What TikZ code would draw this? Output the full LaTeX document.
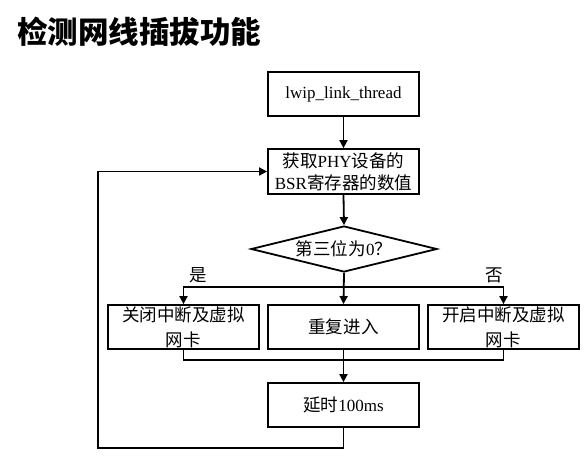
\documentclass[tikz,border=0pt]{standalone}
\usepackage{fontspec}
\setmainfont{Liberation Serif}
\newfontfamily\zh{Noto Sans CJK SC}[Scale=1.03]
\newfontfamily\zhtitle{Noto Sans CJK SC}
\usetikzlibrary{shapes.geometric,arrows.meta}
\begin{document}
\begin{tikzpicture}[x=1pt,y=-1pt,
  every node/.style={font=\fontsize{17}{23}\selectfont},
  box/.style={draw,line width=1.8pt,minimum width=151pt,minimum height=44pt,inner sep=0pt,align=center},
  decision/.style={draw,diamond,aspect=4,line width=1.8pt,minimum width=186pt,minimum height=46pt,inner sep=0pt},
  link/.style={line width=1.8pt},
  arr/.style={link,-{Triangle[length=8pt,width=8pt]}}]
\useasboundingbox (0,0) rectangle (587,459);
\node[anchor=west,inner sep=0pt,font=\fontsize{30.5}{31}\selectfont] (title) at (17,32) {\zhtitle\bfseries 检测网线插拔功能};
\node[box] (lwip) at (343.5,94) {lwip\_link\_thread};
\node[box,minimum height=45pt,font=\fontsize{17}{22}\selectfont] (bsr) at (343.5,171.5) {{\zh 获取}PHY{\zh 设备的}\\BSR{\zh 寄存器的数值}};
\node[decision] (dia) at (344,249) {{\zh 第三位为}0{\zh ？}};
\node[box,font=\fontsize{17}{25}\selectfont] (left) at (183.5,327) {\zh 关闭中断及虚拟\\\zh 网卡};
\node[box] (mid) at (343.5,327) {\zh 重复进入};
\node[box,font=\fontsize{17}{25}\selectfont] (right) at (503.5,327) {\zh 开启中断及虚拟\\\zh 网卡};
\node[box] (delay) at (343.5,405) {{\zh 延时}100ms};
\node (yes) at (198,275) {\zh 是};
\node (no) at (494,275) {\zh 否};
\coordinate (bt) at (344,287);
\coordinate (bb) at (344,360);
\coordinate (lp) at (98,448);
\draw[arr] (lwip.south) -- (bsr.north);
\draw[arr] (bsr.south) -- (dia.north);
\draw[arr] (dia.south) -- (mid.north);
\draw[arr] (bt) -| (left.north);
\draw[arr] (bt) -| (right.north);
\draw[link] (left.south) |- (bb);
\draw[link] (right.south) |- (bb);
\draw[arr] (mid.south) -- (delay.north);
\draw[arr] (delay.south) |- (lp) |- (bsr.west);
\end{tikzpicture}
\end{document}
